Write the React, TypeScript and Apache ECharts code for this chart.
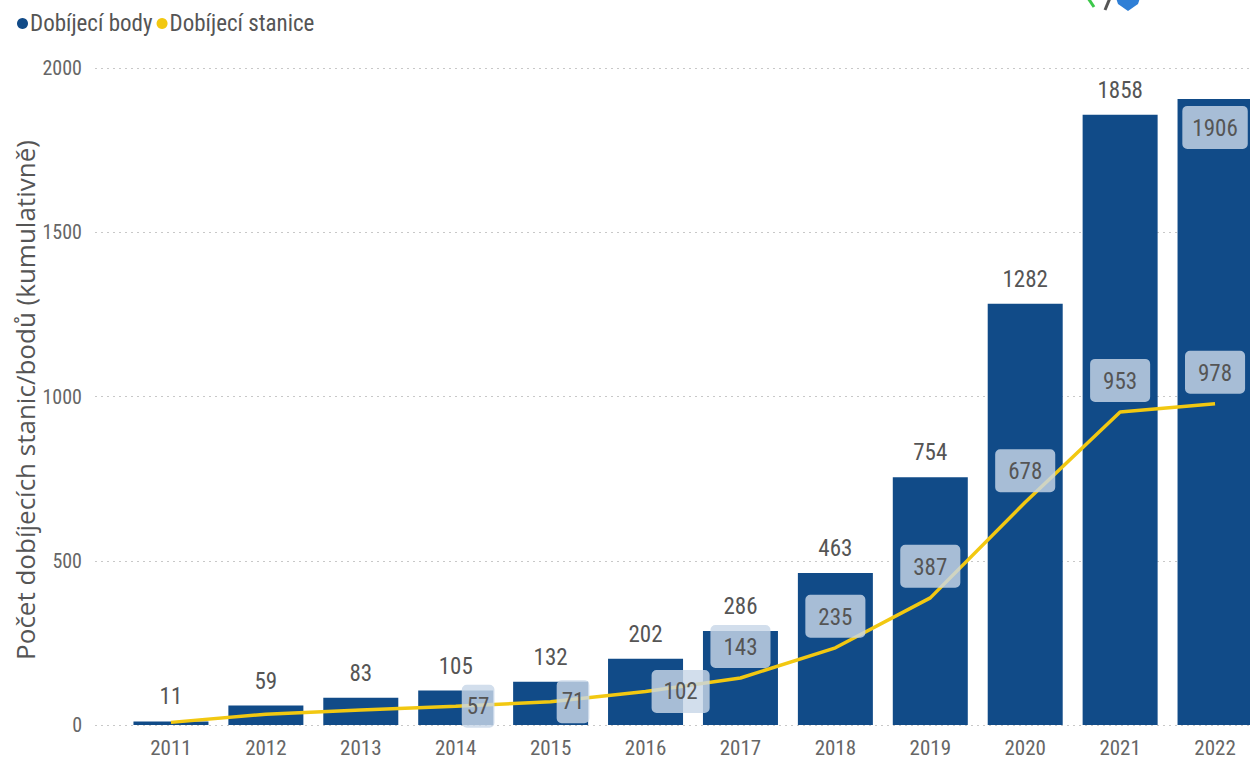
import React, { useEffect, useRef } from "react";
import * as echarts from "echarts";

const years = ["2011", "2012", "2013", "2014", "2015", "2016", "2017", "2018", "2019", "2020", "2021", "2022"];
const chargingPoints = [11, 59, 83, 105, 132, 202, 286, 463, 754, 1282, 1858, 1906];
const chargingStations = [8, 33, 46, 57, 71, 102, 143, 235, 387, 678, 953, 978];
const yMin = 0;
const yMax = 2000;
const yInterval = 500;

const seriesNames = ["Dobíjecí body", "Dobíjecí stanice"];
const yTitle = "Počet dobíjecích stanic/bodů (kumulativně)";

const BAR_COLOR = "#114B88";
const LINE_COLOR = "#F2C811";
const TEXT_COLOR = "#555555";
const FONT = "'Liberation Sans Narrow', 'Roboto Condensed', Roboto, sans-serif";

const boxLabel = {
  backgroundColor: "rgba(200,215,232,0.82)",
  borderRadius: 5,
  color: TEXT_COLOR,
  fontSize: 23,
  fontFamily: FONT,
};

export default function App() {
  const ref = useRef<HTMLDivElement>(null);

  useEffect(() => {
    if (!ref.current) return;
    const chart = echarts.init(ref.current, undefined, { renderer: "svg" });

    const barData = chargingPoints.map((v, i) => {
      if (i === chargingPoints.length - 1) {
        return {
          value: v,
          label: {
            show: true,
            position: "insideTop",
            distance: 7,
            padding: [11, 10, 9, 10],
            ...boxLabel,
          },
        };
      }
      return { value: v };
    });

    const lineData = chargingStations.map((v, i) => {
      if (i < 3) return { value: v, label: { show: false } };
      if (i < 5)
        return {
          value: v,
          label: { show: true, position: "right", distance: 6, padding: [11, 5, 9, 5], ...boxLabel },
        };
      if (i < 6)
        return {
          value: v,
          label: { show: true, position: "right", distance: 6, padding: [11, 12, 9, 12], ...boxLabel },
        };
      return {
        value: v,
        label: { show: true, position: "top", distance: 10, padding: [11, 13, 9, 13], ...boxLabel },
      };
    });

    chart.setOption({
      animation: false,
      textStyle: { fontFamily: FONT },
      legend: {
        left: 12,
        top: 7,
        itemWidth: 11,
        itemHeight: 11,
        itemGap: 4,
        icon: "circle",
        textStyle: { fontSize: 23, color: TEXT_COLOR, fontFamily: FONT, padding: [0, 0, 0, -3] },
        data: seriesNames,
      },
      grid: [
        { left: 95, width: 1170, top: 68, bottom: 35 },
        { left: 123.5, width: 1139, top: 68, bottom: 35 },
      ],
      xAxis: [
        { type: "value", gridIndex: 0, show: false, min: 0, max: 1 },
        {
          type: "category",
          gridIndex: 1,
          data: years,
          axisLine: { show: false },
          axisTick: { show: false },
          axisLabel: { color: "#666666", fontSize: 21, margin: 12, fontFamily: FONT },
        },
      ],
      yAxis: [
        {
          type: "value",
          gridIndex: 0,
          min: yMin,
          max: yMax,
          interval: yInterval,
          axisLine: { show: false },
          axisTick: { show: false },
          axisLabel: {
            color: "#666666",
            fontSize: 20,
            margin: 13,
            fontFamily: FONT,
            formatter: (v: number) => String(v),
          },
          splitLine: { lineStyle: { type: [2, 4], color: "#c8c8c8", width: 1 } },
        },
        {
          type: "value",
          gridIndex: 1,
          min: yMin,
          max: yMax,
          interval: yInterval,
          show: false,
          splitLine: { show: false },
        },
      ],
      graphic: [
        {
          type: "text",
          x: 25,
          y: 400,
          rotation: Math.PI / 2,
          style: {
            text: yTitle,
            fill: TEXT_COLOR,
            fontSize: 26,
            fontFamily: "'Open Sans', 'Noto Sans', sans-serif",
            textAlign: "center",
            textVerticalAlign: "middle",
          },
        },
        {
          type: "line",
          shape: { x1: 1088, y1: -2, x2: 1094, y2: 7 },
          style: { stroke: "#3cc84a", lineWidth: 3 },
        },
        {
          type: "line",
          shape: { x1: 1110, y1: -2, x2: 1105, y2: 10 },
          style: { stroke: "#555555", lineWidth: 3 },
        },
        {
          type: "polygon",
          shape: { points: [[1116, -2], [1140, -2], [1138, 4], [1128, 11], [1118, 4]] },
          style: { fill: "#2f7fd6" },
        },
      ],
      series: [
        {
          name: seriesNames[0],
          type: "bar",
          xAxisIndex: 1,
          yAxisIndex: 1,
          barWidth: 75,
          itemStyle: { color: BAR_COLOR },
          label: {
            show: true,
            position: "top",
            distance: 13,
            color: TEXT_COLOR,
            fontSize: 23,
            fontFamily: FONT,
          },
          data: barData,
        },
        {
          name: seriesNames[1],
          type: "line",
          xAxisIndex: 1,
          yAxisIndex: 1,
          showSymbol: true,
          symbol: "circle",
          symbolSize: 0.1,
          itemStyle: { color: LINE_COLOR },
          lineStyle: { color: LINE_COLOR, width: 3.5 },
          label: { show: true },
          labelLayout: { hideOverlap: false },
          data: lineData,
          z: 5,
        },
      ],
    });

    return () => chart.dispose();
  }, []);

  return (
    <div
      style={{
        position: "absolute",
        left: 0,
        top: 0,
        width: 1250,
        height: 760,
        overflow: "hidden",
        background: "#ffffff",
      }}
    >
      <div ref={ref} style={{ width: 1265, height: 760 }} />
    </div>
  );
}
